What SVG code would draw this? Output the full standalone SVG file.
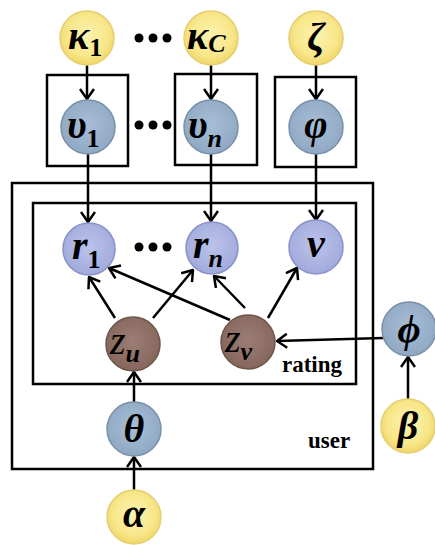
<svg xmlns="http://www.w3.org/2000/svg" width="435" height="545" viewBox="0 0 435 545">
<defs>
<radialGradient id="gy" cx="50%" cy="45%" r="55%"><stop offset="0" stop-color="#fcf2b0"/><stop offset="0.7" stop-color="#f8e78a"/><stop offset="1" stop-color="#efd66a"/></radialGradient>
<radialGradient id="gb" cx="50%" cy="45%" r="55%"><stop offset="0" stop-color="#a9bed6"/><stop offset="1" stop-color="#8fa8c3"/></radialGradient>
<radialGradient id="gl" cx="50%" cy="45%" r="55%"><stop offset="0" stop-color="#bcc3ea"/><stop offset="1" stop-color="#a1aadc"/></radialGradient>
<radialGradient id="gr" cx="50%" cy="45%" r="55%"><stop offset="0" stop-color="#9c7e75"/><stop offset="1" stop-color="#86665c"/></radialGradient>
<marker id="ah" viewBox="0 0 12 16" markerWidth="12" markerHeight="16" refX="11" refY="8" orient="auto" markerUnits="userSpaceOnUse">
<path d="M1,1 L11,8 L1,15" fill="none" stroke="#000" stroke-width="2.5"/>
</marker>
</defs>
<style>
.y{fill:url(#gy);stroke:#e6cf70;stroke-width:1.5}
.b{fill:url(#gb);stroke:#7890ab;stroke-width:1.5}
.l{fill:url(#gl);stroke:#8a93c9;stroke-width:1.5}
.r{fill:url(#gr);stroke:#6e544b;stroke-width:1.5}
.t{font-family:"Liberation Serif",serif;font-weight:bold;font-style:italic;font-size:40px;fill:#000}
.s{font-weight:bold;font-size:26px;font-style:normal}
.si{font-weight:bold;font-style:italic;font-size:26px}
.lab{font-family:"Liberation Serif",serif;font-weight:bold;font-size:23px;fill:#000}
.box{fill:none;stroke:#000;stroke-width:2.5}
.e{stroke:#000;stroke-width:2.5;fill:none;marker-end:url(#ah)}
.dot{fill:#000}
</style>
<rect width="435" height="545" fill="#fff"/>
<g id="plates">
<rect class="box" x="12" y="183" width="361" height="286"/>
<rect class="box" x="33" y="203" width="323" height="181"/>
<rect class="box" x="47" y="75" width="81" height="91"/>
<rect class="box" x="175" y="74" width="82" height="91"/>
<rect class="box" x="275" y="77" width="81" height="90"/>
<text class="lab" x="282" y="372">rating</text>
<text class="lab" x="308" y="448">user</text>
</g>
<g id="connectors">
<line class="e" x1="87" y1="65" x2="87" y2="99"/>
<line class="e" x1="211" y1="65" x2="211" y2="99"/>
<line class="e" x1="316" y1="65" x2="316" y2="99"/>
<line class="e" x1="88" y1="154" x2="88" y2="222"/>
<line class="e" x1="211" y1="154" x2="211" y2="221"/>
<line class="e" x1="316" y1="154" x2="316" y2="220"/>
<line class="e" x1="115" y1="318" x2="89" y2="277"/>
<line class="e" x1="153" y1="318" x2="193" y2="270"/>
<line class="e" x1="230" y1="320" x2="109" y2="268"/>
<line class="e" x1="245" y1="308" x2="214" y2="276"/>
<line class="e" x1="268" y1="318" x2="297" y2="268"/>
<line class="e" x1="383" y1="338" x2="277" y2="341"/>
<line class="e" x1="134" y1="402" x2="134" y2="372"/>
<line class="e" x1="134" y1="490" x2="134" y2="457"/>
<line class="e" x1="408" y1="399" x2="408" y2="357"/>
</g>
<g id="dots">
<circle class="dot" cx="139" cy="38" r="4.5"/><circle class="dot" cx="153" cy="38" r="4.5"/><circle class="dot" cx="167" cy="38" r="4.5"/>
<circle class="dot" cx="139" cy="125" r="4.5"/><circle class="dot" cx="153" cy="125" r="4.5"/><circle class="dot" cx="167" cy="125" r="4.5"/>
<circle class="dot" cx="139" cy="247" r="4.5"/><circle class="dot" cx="153" cy="247" r="4.5"/><circle class="dot" cx="167" cy="247" r="4.5"/>
</g>
<g id="kappa1"><circle class="y" cx="87" cy="38" r="27"/><text class="t" x="68" y="49">κ<tspan class="s" dy="7">1</tspan></text></g>
<g id="kappaC"><circle class="y" cx="211" cy="38" r="27"/><text class="t" x="187" y="49">κ<tspan class="si" dy="3">C</tspan></text></g>
<g id="zeta"><circle class="y" cx="316" cy="38" r="27"/><text class="t" x="316" y="50" text-anchor="middle">ζ</text></g>
<g id="upsilon1"><circle class="b" cx="88" cy="127" r="27"/><text class="t" x="67" y="138">υ<tspan class="s" dy="9">1</tspan></text></g>
<g id="upsilonn"><circle class="b" cx="211" cy="127" r="27"/><text class="t" x="188" y="138">υ<tspan class="si" dy="9">n</tspan></text></g>
<g id="varphi"><circle class="b" cx="316" cy="127" r="27"/><text class="t" x="316" y="138" text-anchor="middle">φ</text></g>
<g id="r1"><circle class="l" cx="89" cy="249" r="26"/><text class="t" x="72" y="259">r<tspan class="s" dy="9">1</tspan></text></g>
<g id="rn"><circle class="l" cx="212" cy="248" r="26"/><text class="t" x="193" y="258">r<tspan class="si" dy="9">n</tspan></text></g>
<g id="v"><circle class="l" cx="316" cy="247" r="27"/><text class="t" x="316" y="257" text-anchor="middle">v</text></g>
<g id="zu"><circle class="r" cx="133" cy="344" r="27"/><text class="t" x="110" y="354" style="font-weight:normal">z<tspan class="si" dy="8">u</tspan></text></g>
<g id="zv"><circle class="r" cx="248" cy="342" r="27"/><text class="t" x="225" y="352" style="font-weight:normal">z<tspan class="si" dy="8">v</tspan></text></g>
<g id="phi"><circle class="b" cx="409" cy="329" r="27"/><text class="t" x="409" y="342" text-anchor="middle">ϕ</text></g>
<g id="theta"><circle class="b" cx="134" cy="429" r="27"/><text class="t" x="134" y="442" text-anchor="middle">θ</text></g>
<g id="beta"><circle class="y" cx="408" cy="426" r="27"/><text class="t" x="408" y="439" text-anchor="middle">β</text></g>
<g id="alpha"><circle class="y" cx="134" cy="517" r="27"/><text class="t" x="134" y="527" text-anchor="middle">α</text></g>
</svg>
